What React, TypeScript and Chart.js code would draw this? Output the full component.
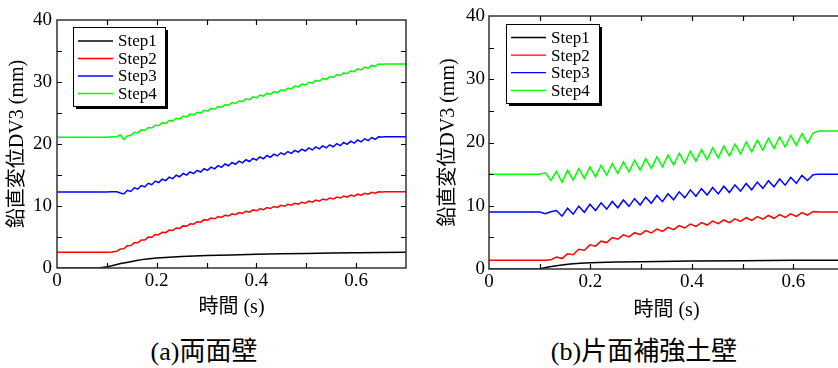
import React, { useEffect, useRef } from 'react';
import { Chart, registerables } from 'chart.js';

Chart.register(...registerables);

// ---- shared labels / ticks ----
const SERIES_LABELS = ['Step1', 'Step2', 'Step3', 'Step4'];
const SERIES_COLORS = ['#000000', '#ff0000', '#0000ff', '#00ff00'];
const X_TICK_LABELS = [0, 0.2, 0.4, 0.6];
const Y_TICK_LABELS = [0, 10, 20, 30, 40];
const X_TICK_MARKS = [0.1, 0.2, 0.3, 0.4, 0.5, 0.6];
const Y_TICK_MARKS = [5, 10, 15, 20, 25, 30, 35];
const X_TITLE = '時間 (s)';
const Y_TITLE = '鉛直変位DV3 (mm)';
const CAPTION_A = '(a)両面壁';
const CAPTION_B = '(b)片面補強土壁';

// ---- panel (a) data ----
const timeA1 = [0, 0.05, 0.085, 0.1, 0.11, 0.12, 0.13, 0.14, 0.15, 0.16, 0.17, 0.18, 0.2, 0.25, 0.3, 0.35, 0.4, 0.45, 0.5, 0.55, 0.6, 0.65, 0.7];
const stepA1 = [0, 0, 0.02, 0.2, 0.35, 0.55, 0.75, 0.9, 1.05, 1.2, 1.35, 1.45, 1.6, 1.85, 2.0, 2.1, 2.2, 2.3, 2.35, 2.4, 2.45, 2.5, 2.55];

const timeA = [0, 0.05, 0.1, 0.11,
  0.12, 0.127, 0.134, 0.141, 0.148, 0.155, 0.162, 0.169, 0.176, 0.183,
  0.19, 0.197, 0.204, 0.211, 0.218, 0.225, 0.232, 0.239, 0.246, 0.253,
  0.26, 0.267, 0.274, 0.281, 0.288, 0.295, 0.302, 0.309, 0.316, 0.323,
  0.33, 0.337, 0.344, 0.351, 0.358, 0.365, 0.372, 0.379, 0.386, 0.393,
  0.4, 0.407, 0.414, 0.421, 0.428, 0.435, 0.442, 0.449, 0.456, 0.463,
  0.47, 0.477, 0.484, 0.491, 0.498, 0.505, 0.512, 0.519, 0.526, 0.533,
  0.54, 0.547, 0.554, 0.561, 0.568, 0.575, 0.582, 0.589, 0.596, 0.603,
  0.61, 0.617, 0.624, 0.631, 0.638, 0.645, 0.652,
  0.66, 0.68, 0.7];
const stepA2 = [2.55, 2.55, 2.55, 2.6,
  2.70, 3.08, 3.09, 3.59, 3.61, 4.08, 4.06, 4.53, 4.51, 4.98,
  4.96, 5.42, 5.38, 5.78, 5.71, 6.12, 6.05, 6.46, 6.38, 6.79,
  6.72, 7.13, 7.06, 7.46, 7.39, 7.80, 7.71, 8.06, 7.94, 8.29,
  8.16, 8.51, 8.38, 8.74, 8.60, 8.95, 8.81, 9.16, 9.02, 9.37,
  9.23, 9.56, 9.41, 9.74, 9.59, 9.93, 9.78, 10.11, 9.95, 10.28,
  10.12, 10.44, 10.29, 10.61, 10.46, 10.78, 10.62, 10.95, 10.79, 11.12,
  10.96, 11.27, 11.12, 11.44, 11.28, 11.60, 11.44, 11.76, 11.59, 11.91,
  11.75, 12.06, 11.90, 12.22, 12.05, 12.30, 12.27,
  12.28, 12.28, 12.28];
const stepA3 = [12.27, 12.27, 12.27, 12.28,
  12.30, 12.10, 11.95, 12.53, 12.34, 12.93, 12.71, 13.29, 13.08, 13.66,
  13.44, 14.02, 13.79, 14.34, 14.10, 14.65, 14.40, 14.96, 14.71, 15.25,
  14.98, 15.51, 15.23, 15.76, 15.48, 16.01, 15.74, 16.26, 15.99, 16.51,
  16.24, 16.77, 16.49, 17.02, 16.73, 17.24, 16.95, 17.46, 17.18, 17.69,
  17.40, 17.91, 17.62, 18.14, 17.85, 18.36, 18.07, 18.58, 18.28, 18.78,
  18.48, 18.98, 18.68, 19.17, 18.87, 19.36, 19.04, 19.53, 19.21, 19.70,
  19.38, 19.87, 19.56, 20.06, 19.75, 20.25, 19.95, 20.45, 20.14, 20.64,
  20.34, 20.84, 20.54, 21.04, 20.76, 21.15, 21.12,
  21.15, 21.15, 21.15];
const stepA4 = [21.1, 21.1, 21.1, 21.15,
  21.20, 21.45, 20.75, 21.30, 21.40, 21.89, 21.79, 22.28, 22.18, 22.67,
  22.57, 23.07, 22.95, 23.44, 23.32, 23.80, 23.68, 24.16, 24.05, 24.52,
  24.37, 24.82, 24.68, 25.13, 24.99, 25.44, 25.29, 25.75, 25.60, 26.06,
  25.91, 26.36, 26.22, 26.67, 26.53, 26.98, 26.83, 27.29, 27.14, 27.60,
  27.45, 27.89, 27.73, 28.17, 28.01, 28.45, 28.29, 28.73, 28.58, 29.04,
  28.89, 29.34, 29.20, 29.65, 29.51, 29.96, 29.81, 30.27, 30.12, 30.58,
  30.43, 30.88, 30.74, 31.19, 31.05, 31.50, 31.35, 31.81, 31.66, 32.11,
  31.95, 32.39, 32.23, 32.67, 32.51, 32.90, 32.85,
  32.9, 32.9, 32.9];

// ---- panel (b) data ----
const timeB1 = [0, 0.05, 0.095, 0.1, 0.11, 0.12, 0.14, 0.16, 0.18, 0.2, 0.25, 0.3, 0.4, 0.5, 0.6, 0.7];
const stepB1 = [0, 0, 0, 0.05, 0.2, 0.35, 0.6, 0.8, 0.92, 1.0, 1.1, 1.15, 1.25, 1.3, 1.38, 1.4];

const timeB = [0, 0.05, 0.09,
  0.1, 0.111, 0.122, 0.133, 0.144, 0.155, 0.166, 0.177, 0.188, 0.199,
  0.21, 0.221, 0.232, 0.243, 0.254, 0.265, 0.276, 0.287, 0.298, 0.309,
  0.32, 0.331, 0.342, 0.353, 0.364, 0.375, 0.386, 0.397, 0.408, 0.419,
  0.43, 0.441, 0.452, 0.463, 0.474, 0.485, 0.496, 0.507, 0.518, 0.529,
  0.54, 0.551, 0.562, 0.573, 0.584, 0.595, 0.606, 0.617, 0.628, 0.639,
  0.65,
  0.66, 0.68, 0.7];
const stepB2 = [1.4, 1.4, 1.4,
  1.40, 1.40, 1.45, 1.90, 1.65, 2.41, 2.26, 3.11, 2.97, 3.82,
  3.61, 4.40, 4.18, 4.97, 4.71, 5.39, 5.07, 5.74, 5.42, 6.06,
  5.69, 6.32, 5.95, 6.59, 6.22, 6.85, 6.48, 7.11, 6.73, 7.34,
  6.95, 7.56, 7.17, 7.75, 7.34, 7.93, 7.52, 8.11, 7.69, 8.28,
  7.87, 8.46, 8.02, 8.59, 8.15, 8.72, 8.31, 8.92, 8.53, 9.10,
  9.00,
  9.0, 9.0, 9.0];
const stepB3 = [9.0, 9.0, 9.0,
  9.00, 8.75, 9.05, 9.25, 8.35, 9.62, 8.67, 9.93, 8.98, 10.24,
  9.25, 10.46, 9.47, 10.68, 9.69, 10.90, 9.91, 11.12, 10.13, 11.36,
  10.39, 11.62, 10.65, 11.89, 10.95, 12.20, 11.25, 12.51, 11.51, 12.70,
  11.69, 12.88, 11.87, 13.08, 12.09, 13.30, 12.31, 13.52, 12.53, 13.74,
  12.75, 13.96, 12.99, 14.23, 13.26, 14.49, 13.54, 14.81, 14.00, 14.90,
  15.00,
  15.0, 15.0, 15.0];
const stepB4 = [15.0, 15.0, 15.0,
  15.00, 15.20, 14.00, 15.45, 13.70, 15.61, 14.04, 15.87, 14.31, 16.14,
  14.57, 16.40, 14.83, 16.67, 15.10, 16.93, 15.36, 17.19, 15.63, 17.46,
  15.89, 17.72, 16.15, 17.99, 16.45, 18.30, 16.75, 18.61, 17.05, 18.88,
  17.31, 19.14, 17.58, 19.43, 17.89, 19.74, 18.19, 20.05, 18.50, 20.36,
  18.81, 20.66, 19.07, 20.88, 19.29, 21.10, 19.55, 21.42, 19.90, 21.50,
  21.80,
  21.8, 21.8, 21.8];

const SERIF = "'Times New Roman', 'Liberation Serif', Tinos, 'DejaVu Serif', 'Noto Sans CJK JP', serif";

type LegendLayout = { x: number; y: number; w: number; h: number; l0: number; l1: number; tx: number; r0: number; dr: number };
type PanelCfg = {
  left: number; w: number; h: number;
  padTop: number; padRight: number;
  yW: number; xH: number; yTitlePad: number; xTitlePad: number; yTickPad: number;
  legend: LegendLayout;
  series: { t: number[]; v: number[] }[];
};

const framePlugin = {
  id: 'frame',
  afterDraw(chart: any, _args: any, opts: any) {
    const { ctx, chartArea } = chart;
    const { left, right, top, bottom } = chartArea;
    const xs = chart.scales.x;
    const ys = chart.scales.y;
    ctx.save();
    ctx.strokeStyle = '#333';
    ctx.lineWidth = 1.5;
    ctx.strokeRect(left, top, right - left, bottom - top);
    ctx.strokeStyle = '#000';
    ctx.lineWidth = 1.2;
    ctx.beginPath();
    for (const v of X_TICK_MARKS) {
      const px = Math.round(xs.getPixelForValue(v)) + 0.5;
      ctx.moveTo(px, bottom); ctx.lineTo(px, bottom - 5);
      ctx.moveTo(px, top); ctx.lineTo(px, top + 5);
    }
    for (const v of Y_TICK_MARKS) {
      const py = Math.round(ys.getPixelForValue(v)) + 0.5;
      ctx.moveTo(left, py); ctx.lineTo(left + 5, py);
      ctx.moveTo(right, py); ctx.lineTo(right - 5, py);
    }
    ctx.stroke();

    // legend box with drop shadow
    const L: LegendLayout = opts.layout;
    ctx.fillStyle = '#000';
    ctx.fillRect(L.x + 3, L.y + 3, L.w, L.h);
    ctx.fillStyle = '#fff';
    ctx.fillRect(L.x, L.y, L.w, L.h);
    ctx.strokeStyle = '#000';
    ctx.lineWidth = 1;
    ctx.strokeRect(L.x + 0.5, L.y + 0.5, L.w, L.h);
    ctx.font = `17px ${SERIF}`;
    ctx.textBaseline = 'middle';
    ctx.textAlign = 'left';
    chart.data.datasets.forEach((ds: any, i: number) => {
      const y = L.r0 + i * L.dr;
      ctx.strokeStyle = ds.borderColor;
      ctx.lineWidth = 1.3;
      ctx.beginPath();
      ctx.moveTo(L.l0, y);
      ctx.lineTo(L.l1, y);
      ctx.stroke();
      ctx.fillStyle = '#000';
      ctx.fillText(ds.label, L.tx, y + 1);
    });
    ctx.restore();
  },
};

function buildConfig(p: PanelCfg): any {
  const tickFont = { family: SERIF, size: 19 };
  const titleFont = { family: SERIF, size: 20 };
  return {
    type: 'line',
    data: {
      datasets: p.series.map((s, i) => ({
        label: SERIES_LABELS[i],
        data: s.t.map((t, j) => ({ x: t, y: s.v[j] })),
        borderColor: SERIES_COLORS[i],
        backgroundColor: SERIES_COLORS[i],
        borderWidth: 1.5,
        pointRadius: 0,
        tension: 0,
        fill: false,
      })),
    },
    options: {
      responsive: false,
      animation: false,
      devicePixelRatio: 1,
      layout: { padding: { top: p.padTop, right: p.padRight, left: 0, bottom: 0 } },
      plugins: {
        legend: { display: false },
        tooltip: { enabled: false },
        frame: { layout: p.legend },
      },
      scales: {
        x: {
          type: 'linear',
          min: 0,
          max: 0.7,
          afterBuildTicks: (s: any) => { s.ticks = X_TICK_LABELS.map((v) => ({ value: v })); },
          afterFit: (s: any) => { s.height = p.xH; },
          grid: { display: false, drawTicks: false },
          border: { display: false },
          ticks: {
            color: '#000',
            font: tickFont,
            padding: 2,
            autoSkip: false,
            maxRotation: 0,
            callback: (v: any) => (Number(v) === 0 ? '0' : Number(v).toFixed(1)),
          },
          title: { display: true, text: X_TITLE, color: '#000', font: titleFont, padding: { top: 0, bottom: p.xTitlePad } },
        },
        y: {
          type: 'linear',
          min: 0,
          max: 40,
          afterBuildTicks: (s: any) => { s.ticks = Y_TICK_LABELS.map((v) => ({ value: v })); },
          afterFit: (s: any) => { s.width = p.yW; },
          grid: { display: false, drawTicks: false },
          border: { display: false },
          ticks: { color: '#000', font: tickFont, padding: p.yTickPad, autoSkip: false, callback: (v: any) => String(v) },
          title: { display: true, text: Y_TITLE, color: '#000', font: titleFont, padding: { top: p.yTitlePad, bottom: 0 } },
        },
      },
    },
    plugins: [framePlugin],
  };
}

function Panel({ cfg }: { cfg: PanelCfg }) {
  const ref = useRef<HTMLCanvasElement>(null);
  useEffect(() => {
    const chart = new Chart(ref.current as HTMLCanvasElement, buildConfig(cfg));
    return () => chart.destroy();
  }, []);
  return (
    <canvas
      ref={ref}
      width={cfg.w}
      height={cfg.h}
      style={{ position: 'absolute', left: cfg.left, top: 0, width: cfg.w, height: cfg.h }}
    />
  );
}

const panelA: PanelCfg = {
  left: 0, w: 420, h: 330, padTop: 20, padRight: 14,
  yW: 57, xH: 62, yTitlePad: 5.5, xTitlePad: 10, yTickPad: 5,
  legend: { x: 73, y: 27, w: 92, h: 79, l0: 78, l1: 113, tx: 118, r0: 41, dr: 17.5 },
  series: [
    { t: timeA1, v: stepA1 },
    { t: timeA, v: stepA2 },
    { t: timeA, v: stepA3 },
    { t: timeA, v: stepA4 },
  ],
};

const panelB: PanelCfg = {
  left: 420, w: 430, h: 330, padTop: 16, padRight: 6,
  yW: 69, xH: 61, yTitlePad: 17, xTitlePad: 7.5, yTickPad: 4,
  legend: { x: 86, y: 24, w: 93, h: 79, l0: 91, l1: 126, tx: 131, r0: 37.5, dr: 17.6 },
  series: [
    { t: timeB1, v: stepB1 },
    { t: timeB, v: stepB2 },
    { t: timeB, v: stepB3 },
    { t: timeB, v: stepB4 },
  ],
};

export default function App() {
  const captionStyle: React.CSSProperties = {
    position: 'absolute',
    top: 337,
    width: 260,
    textAlign: 'center',
    fontFamily: SERIF,
    fontSize: 26,
    lineHeight: '30px',
    color: '#000',
    whiteSpace: 'nowrap',
  };
  return (
    <div
      lang="ja"
      style={{ position: 'fixed', left: 0, top: 0, width: 838, height: 368, overflow: 'hidden', background: '#fff' }}
    >
      <Panel cfg={panelA} />
      <Panel cfg={panelB} />
      <div style={{ ...captionStyle, left: 204 - 130 }}>{CAPTION_A}</div>
      <div style={{ ...captionStyle, left: 644 - 130 }}>{CAPTION_B}</div>
    </div>
  );
}
